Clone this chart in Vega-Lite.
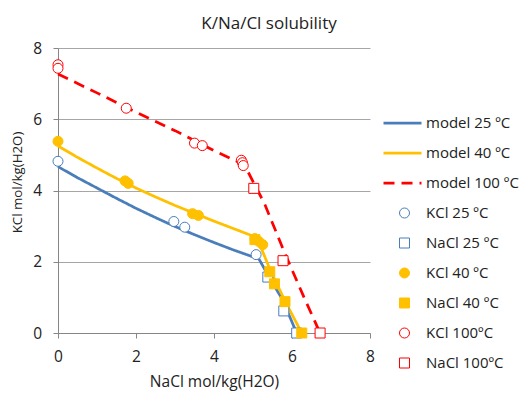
{
  "$schema": "https://vega.github.io/schema/vega-lite/v6.json",
  "width": 312,
  "height": 285,
  "autosize": {"type": "none"},
  "padding": {"left": 58, "top": 48, "right": 153, "bottom": 61},
  "title": {
    "text": "K/Na/Cl solubility",
    "font": "Open Sans",
    "fontSize": 17,
    "fontWeight": "normal",
    "color": "#222222",
    "anchor": "middle",
    "baseline": "alphabetic",
    "dx": 55,
    "dy": 20,
    "offset": 15
  },
  "config": {
    "font": "Open Sans",
    "view": {"stroke": null},
    "legend": {"symbolFillColor": "white", "padding": 0}
  },
  "datasets": {
    "models": [
      {"series": "model 25 ºC", "nacl": 0, "kcl": 4.67},
      {"series": "model 25 ºC", "nacl": 0.5, "kcl": 4.36},
      {"series": "model 25 ºC", "nacl": 1, "kcl": 4.07},
      {"series": "model 25 ºC", "nacl": 1.5, "kcl": 3.78},
      {"series": "model 25 ºC", "nacl": 2, "kcl": 3.5},
      {"series": "model 25 ºC", "nacl": 2.5, "kcl": 3.24},
      {"series": "model 25 ºC", "nacl": 3, "kcl": 2.99},
      {"series": "model 25 ºC", "nacl": 3.5, "kcl": 2.76},
      {"series": "model 25 ºC", "nacl": 4, "kcl": 2.54},
      {"series": "model 25 ºC", "nacl": 4.5, "kcl": 2.33},
      {"series": "model 25 ºC", "nacl": 5.15, "kcl": 2.08},
      {"series": "model 25 ºC", "nacl": 5.45, "kcl": 1.5},
      {"series": "model 25 ºC", "nacl": 5.75, "kcl": 0.95},
      {"series": "model 25 ºC", "nacl": 6.12, "kcl": 0},
      {"series": "model 40 ºC", "nacl": 0, "kcl": 5.25},
      {"series": "model 40 ºC", "nacl": 0.5, "kcl": 4.93},
      {"series": "model 40 ºC", "nacl": 1, "kcl": 4.63},
      {"series": "model 40 ºC", "nacl": 1.5, "kcl": 4.34},
      {"series": "model 40 ºC", "nacl": 2, "kcl": 4.07},
      {"series": "model 40 ºC", "nacl": 2.5, "kcl": 3.82},
      {"series": "model 40 ºC", "nacl": 3, "kcl": 3.58},
      {"series": "model 40 ºC", "nacl": 3.5, "kcl": 3.36},
      {"series": "model 40 ºC", "nacl": 4, "kcl": 3.14},
      {"series": "model 40 ºC", "nacl": 4.5, "kcl": 2.93},
      {"series": "model 40 ºC", "nacl": 5.1, "kcl": 2.68},
      {"series": "model 40 ºC", "nacl": 5.43, "kcl": 1.8},
      {"series": "model 40 ºC", "nacl": 5.82, "kcl": 0.9},
      {"series": "model 40 ºC", "nacl": 6.25, "kcl": 0},
      {"series": "model 100 ºC", "nacl": 0, "kcl": 7.27},
      {"series": "model 100 ºC", "nacl": 1, "kcl": 6.74},
      {"series": "model 100 ºC", "nacl": 2, "kcl": 6.2},
      {"series": "model 100 ºC", "nacl": 3, "kcl": 5.68},
      {"series": "model 100 ºC", "nacl": 4, "kcl": 5.12},
      {"series": "model 100 ºC", "nacl": 4.78, "kcl": 4.72},
      {"series": "model 100 ºC", "nacl": 5.3, "kcl": 3.62},
      {"series": "model 100 ºC", "nacl": 5.8, "kcl": 2.28},
      {"series": "model 100 ºC", "nacl": 6.3, "kcl": 1.02},
      {"series": "model 100 ºC", "nacl": 6.72, "kcl": 0}
    ],
    "samples": [
      {"series": "KCl 25 ºC", "nacl": 0, "kcl": 4.82},
      {"series": "KCl 25 ºC", "nacl": 2.97, "kcl": 3.13},
      {"series": "KCl 25 ºC", "nacl": 3.25, "kcl": 2.97},
      {"series": "KCl 25 ºC", "nacl": 5.08, "kcl": 2.2},
      {"series": "NaCl 25 ºC", "nacl": 5.38, "kcl": 1.57},
      {"series": "NaCl 25 ºC", "nacl": 5.79, "kcl": 0.62},
      {"series": "NaCl 25 ºC", "nacl": 6.12, "kcl": 0},
      {"series": "KCl 40 ºC", "nacl": 0, "kcl": 5.38},
      {"series": "KCl 40 ºC", "nacl": 1.72, "kcl": 4.27},
      {"series": "KCl 40 ºC", "nacl": 1.8, "kcl": 4.2},
      {"series": "KCl 40 ºC", "nacl": 3.45, "kcl": 3.35},
      {"series": "KCl 40 ºC", "nacl": 3.6, "kcl": 3.3},
      {"series": "KCl 40 ºC", "nacl": 5.05, "kcl": 2.65},
      {"series": "KCl 40 ºC", "nacl": 5.15, "kcl": 2.57},
      {"series": "KCl 40 ºC", "nacl": 5.25, "kcl": 2.48},
      {"series": "NaCl 40 ºC", "nacl": 5.05, "kcl": 2.62},
      {"series": "NaCl 40 ºC", "nacl": 5.43, "kcl": 1.72},
      {"series": "NaCl 40 ºC", "nacl": 5.55, "kcl": 1.38},
      {"series": "NaCl 40 ºC", "nacl": 5.82, "kcl": 0.88},
      {"series": "NaCl 40 ºC", "nacl": 6.25, "kcl": 0},
      {"series": "KCl 100ºC", "nacl": 0, "kcl": 7.53},
      {"series": "KCl 100ºC", "nacl": 0, "kcl": 7.43},
      {"series": "KCl 100ºC", "nacl": 1.75, "kcl": 6.31},
      {"series": "KCl 100ºC", "nacl": 3.5, "kcl": 5.33},
      {"series": "KCl 100ºC", "nacl": 3.7, "kcl": 5.26},
      {"series": "KCl 100ºC", "nacl": 4.7, "kcl": 4.85},
      {"series": "KCl 100ºC", "nacl": 4.73, "kcl": 4.78},
      {"series": "KCl 100ºC", "nacl": 4.75, "kcl": 4.7},
      {"series": "NaCl 100ºC", "nacl": 5.02, "kcl": 4.06},
      {"series": "NaCl 100ºC", "nacl": 5.77, "kcl": 2.03},
      {"series": "NaCl 100ºC", "nacl": 6.72, "kcl": 0}
    ]
  },
  "encoding": {
    "x": {
      "field": "nacl",
      "type": "quantitative",
      "title": "NaCl mol/kg(H2O)",
      "scale": {"domain": [0, 8], "nice": false},
      "axis": {
        "values": [0, 2, 4, 6, 8],
        "grid": false,
        "domainColor": "#868686",
        "tickColor": "#868686",
        "tickSize": 5,
        "labelFlush": false,
        "labelPadding": 11,
        "labelFontSize": 15.5,
        "labelColor": "#222222",
        "titleFontSize": 15.5,
        "titleFontWeight": "normal",
        "titleColor": "#222222",
        "titleY": 53.5,
        "titleBaseline": "alphabetic"
      }
    },
    "y": {
      "field": "kcl",
      "type": "quantitative",
      "title": "KCl mol/kg(H2O)",
      "scale": {"domain": [0, 8], "nice": false},
      "axis": {
        "values": [0, 2, 4, 6, 8],
        "grid": true,
        "gridColor": "#a6a6a6",
        "domainColor": "#868686",
        "tickColor": "#868686",
        "tickSize": 5,
        "labelFlush": false,
        "labelPadding": 11.5,
        "labelFontSize": 15.5,
        "labelColor": "#222222",
        "titleFontSize": 13.3,
        "titleFontWeight": "normal",
        "titleColor": "#222222",
        "titleX": -40.5,
        "titleY": 134,
        "titleBaseline": "middle"
      }
    }
  },
  "layer": [
    {
      "data": {"name": "models"},
      "mark": {"type": "line", "strokeWidth": 2.75},
      "encoding": {
        "color": {
          "field": "series",
          "type": "nominal",
          "scale": {
            "domain": ["model 25 ºC", "model 40 ºC", "model 100 ºC"],
            "range": ["#4a7ebb", "#ffc000", "#ff0000"]
          },
          "legend": {
            "title": null,
            "orient": "none",
            "legendX": 324,
            "legendY": 60,
            "symbolType": "stroke",
            "symbolSize": 1444,
            "symbolStrokeWidth": 2.75,
            "clipHeight": 30,
            "rowPadding": 0,
            "labelOffset": 3,
            "labelFontSize": 15,
            "labelColor": "#222222"
          }
        },
        "strokeDash": {
          "field": "series",
          "type": "nominal",
          "scale": {
            "domain": ["model 25 ºC", "model 40 ºC", "model 100 ºC"],
            "range": [[1, 0], [1, 0], [11, 7]]
          },
          "legend": {
            "title": null,
            "orient": "none",
            "legendX": 324,
            "legendY": 60,
            "symbolType": "stroke",
            "symbolSize": 1444,
            "symbolStrokeWidth": 2.75,
            "clipHeight": 30,
            "rowPadding": 0,
            "labelOffset": 3,
            "labelFontSize": 15,
            "labelColor": "#222222"
          }
        }
      }
    },
    {
      "data": {"name": "samples"},
      "mark": {"type": "point", "size": 100, "strokeWidth": 1, "opacity": 1},
      "encoding": {
        "stroke": {
          "field": "series",
          "type": "nominal",
          "scale": {
            "domain": ["KCl 25 ºC", "NaCl 25 ºC", "KCl 40 ºC", "NaCl 40 ºC", "KCl 100ºC", "NaCl 100ºC"],
            "range": ["#4a7ebb", "#4a7ebb", "#ffc000", "#ffc000", "#ff0000", "#ff0000"]
          },
          "legend": {
            "title": null,
            "orient": "none",
            "legendX": 339,
            "legendY": 150,
            "symbolSize": 100,
            "symbolStrokeWidth": 1,
            "clipHeight": 30,
            "rowPadding": 0,
            "labelOffset": 14,
            "labelFontSize": 15,
            "labelColor": "#222222"
          }
        },
        "fill": {
          "field": "series",
          "type": "nominal",
          "scale": {
            "domain": ["KCl 25 ºC", "NaCl 25 ºC", "KCl 40 ºC", "NaCl 40 ºC", "KCl 100ºC", "NaCl 100ºC"],
            "range": ["white", "white", "#ffc000", "#ffc000", "white", "white"]
          },
          "legend": {
            "title": null,
            "orient": "none",
            "legendX": 339,
            "legendY": 150,
            "symbolSize": 100,
            "symbolStrokeWidth": 1,
            "clipHeight": 30,
            "rowPadding": 0,
            "labelOffset": 14,
            "labelFontSize": 15,
            "labelColor": "#222222"
          }
        },
        "shape": {
          "field": "series",
          "type": "nominal",
          "scale": {
            "domain": ["KCl 25 ºC", "NaCl 25 ºC", "KCl 40 ºC", "NaCl 40 ºC", "KCl 100ºC", "NaCl 100ºC"],
            "range": ["circle", "square", "circle", "square", "circle", "square"]
          },
          "legend": {
            "title": null,
            "orient": "none",
            "legendX": 339,
            "legendY": 150,
            "symbolSize": 100,
            "symbolStrokeWidth": 1,
            "clipHeight": 30,
            "rowPadding": 0,
            "labelOffset": 14,
            "labelFontSize": 15,
            "labelColor": "#222222"
          }
        }
      }
    }
  ]
}
